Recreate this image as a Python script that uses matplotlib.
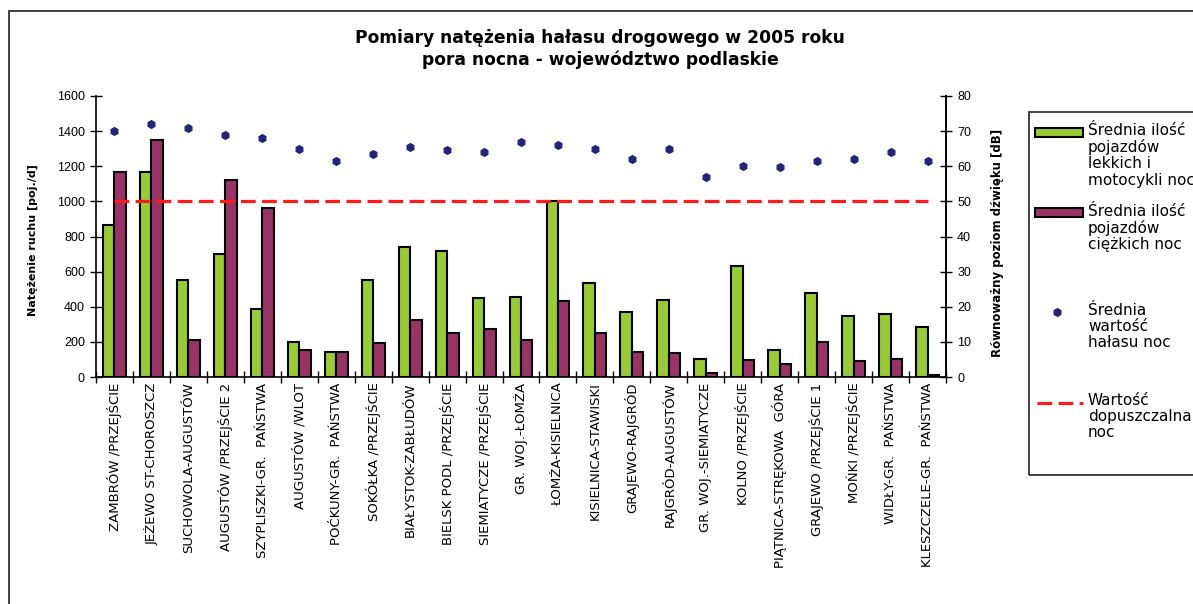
import numpy as np
import matplotlib
matplotlib.use("Agg")
import matplotlib.pyplot as plt
from matplotlib.patches import Rectangle
from matplotlib.lines import Line2D

plt.rcParams['font.family'] = ['Liberation Sans', 'DejaVu Sans']
WIDE = ['DejaVu Sans']

# ---- data ----
locations = [
    "ZAMBRÓW /PRZEJŚCIE", "JEŻEWO ST-CHOROSZCZ", "SUCHOWOLA-AUGUSTÓW",
    "AUGUSTÓW /PRZEJŚCIE 2", "SZYPLISZKI-GR.  PAŃSTWA", "AUGUSTÓW /WLOT",
    "POĆKUNY-GR.  PAŃSTWA", "SOKÓŁKA /PRZEJŚCIE", "BIAŁYSTOK-ZABŁUDÓW",
    "BIELSK PODL /PRZEJŚCIE", "SIEMIATYCZE /PRZEJŚCIE", "GR. WOJ.-ŁOMŻA",
    "ŁOMŻA-KISIELNICA", "KISIELNICA-STAWISKI", "GRAJEWO-RAJGRÓD",
    "RAJGRÓD-AUGUSTÓW", "GR. WOJ.-SIEMIATYCZE", "KOLNO /PRZEJŚCIE",
    "PIĄTNICA-STRĘKOWA  GÓRA", "GRAJEWO /PRZEJŚCIE 1", "MOŃKI /PRZEJŚCIE",
    "WIDŁY-GR.  PAŃSTWA", "KLESZCZELE-GR.  PAŃSTWA",
]
light = [865, 1170, 550, 700, 385, 200, 145, 550, 740, 715, 450, 455,
         1000, 535, 370, 440, 105, 630, 155, 480, 350, 360, 285]
heavy = [1170, 1350, 210, 1120, 965, 155, 145, 195, 325, 250, 275, 210,
         435, 250, 145, 135, 25, 95, 75, 200, 90, 105, 10]
noise = [70, 72, 71, 69, 68, 65, 61.5, 63.5, 65.5, 64.5, 64, 67,
         66, 65, 62, 65, 57, 60, 59.7, 61.5, 62, 64, 61.5]
limit = [50] * len(locations)

left_ticks = [0, 200, 400, 600, 800, 1000, 1200, 1400, 1600]
right_ticks = [0, 10, 20, 30, 40, 50, 60, 70, 80]

GREEN = '#99CC33'
PURPLE = '#993366'
NAVY = '#23237A'
RED = '#FF1A1A'

fig = plt.figure(figsize=(11.93, 6.04), dpi=100)
W, H = 1193, 604

# outer chart frame (cut by the image edge on the right and bottom)
fig.patches.append(Rectangle((9 / W, -0.1), 1.2, 1 - 11 / H + 0.1,
                             transform=fig.transFigure, fill=False,
                             edgecolor='#333333', lw=1.3))

ax = fig.add_axes([96 / W, 1 - 377 / H, (946 - 96) / W, (377 - 96) / H])
ax2 = ax.twinx()

x = np.arange(len(locations))
bw = 0.31
ax.bar(x - bw / 2, light, bw, color=GREEN, edgecolor='black', lw=1.5, zorder=2)
ax.bar(x + bw / 2, heavy, bw, color=PURPLE, edgecolor='black', lw=1.5, zorder=2)

ax2.plot(x, limit, color=RED, lw=2.3, dashes=(4.6, 2.0), zorder=3)
ax2.plot(x, noise, ls='none', marker='h', ms=5.5, color=NAVY, zorder=4)

ax.set_xlim(-0.5, len(locations) - 0.5)
ax.set_ylim(0, 1600)
ax2.set_ylim(0, 80)
ax.set_yticks(left_ticks)
ax2.set_yticks(right_ticks)

ax.set_xticks(x)
ax.set_xticklabels(locations, rotation=90, fontsize=9.5, family=WIDE)
ax.tick_params(axis='x', length=0, pad=4)
ax.set_xticks(np.arange(-0.5, len(locations), 1), minor=True)
ax.tick_params(axis='x', which='minor', direction='inout', length=8, width=1)
ax.tick_params(axis='y', direction='inout', length=8, width=1, labelsize=9, pad=4)
ax2.tick_params(axis='y', direction='inout', length=8, width=1, labelsize=9, pad=4)

for a in (ax, ax2):
    a.spines['top'].set_visible(False)
    for s in ('left', 'right', 'bottom'):
        a.spines[s].set_linewidth(1.2)
ax2.spines['left'].set_visible(False)
ax2.spines['bottom'].set_visible(False)

fig.text(33 / W, 1 - 240 / H, "Natężenie ruchu [poj./d]", rotation=90,
         fontsize=8, fontweight='bold', family=WIDE, ha='center', va='center')
fig.text(997 / W, 1 - 243 / H, "Równoważny poziom dźwięku [dB]", rotation=90,
         fontsize=8.5, fontweight='bold', family=WIDE, ha='center', va='center')

fig.text(600 / W, 1 - 49 / H,
         "Pomiary natężenia hałasu drogowego w 2005 roku\npora nocna - województwo podlaskie",
         fontsize=12.3, fontweight='bold', family=WIDE, ha='center', va='center',
         linespacing=1.2)

# ---- legend (box cut by the image edge) ----
fig.patches.append(Rectangle((1029 / W, 1 - 475 / H), 0.5, (475 - 112) / H,
                             transform=fig.transFigure, fill=False,
                             edgecolor='#333333', lw=1.3))
fig.patches.append(Rectangle((1035 / W, 1 - 137 / H), 48 / W, 9 / H,
                             transform=fig.transFigure, facecolor=GREEN,
                             edgecolor='black', lw=1.5))
fig.patches.append(Rectangle((1035 / W, 1 - 217 / H), 48 / W, 9 / H,
                             transform=fig.transFigure, facecolor=PURPLE,
                             edgecolor='black', lw=1.5))
fig.lines.append(Line2D([1057 / W], [1 - 312 / H], transform=fig.transFigure,
                        marker='h', ms=5.5, color=NAVY, ls='none'))
fig.lines.append(Line2D([1037 / W, 1083 / W], [1 - 403 / H, 1 - 403 / H],
                        transform=fig.transFigure, color=RED, lw=2.3,
                        dashes=(4.6, 2.0)))

leg_text = [
    (133, "Średnia ilość\npojazdów\nlekkich i\nmotocykli noc"),
    (214, "Średnia ilość\npojazdów\nciężkich noc"),
    (313, "Średnia\nwartość\nhałasu noc"),
    (403, "Wartość\ndopuszczalna\nnoc"),
]
for yy, t in leg_text:
    fig.text(1088 / W, 1 - (yy - 10) / H, t, fontsize=11, family=WIDE,
             ha='left', va='top', linespacing=1.1)

fig.savefig("out.png", dpi=100)
